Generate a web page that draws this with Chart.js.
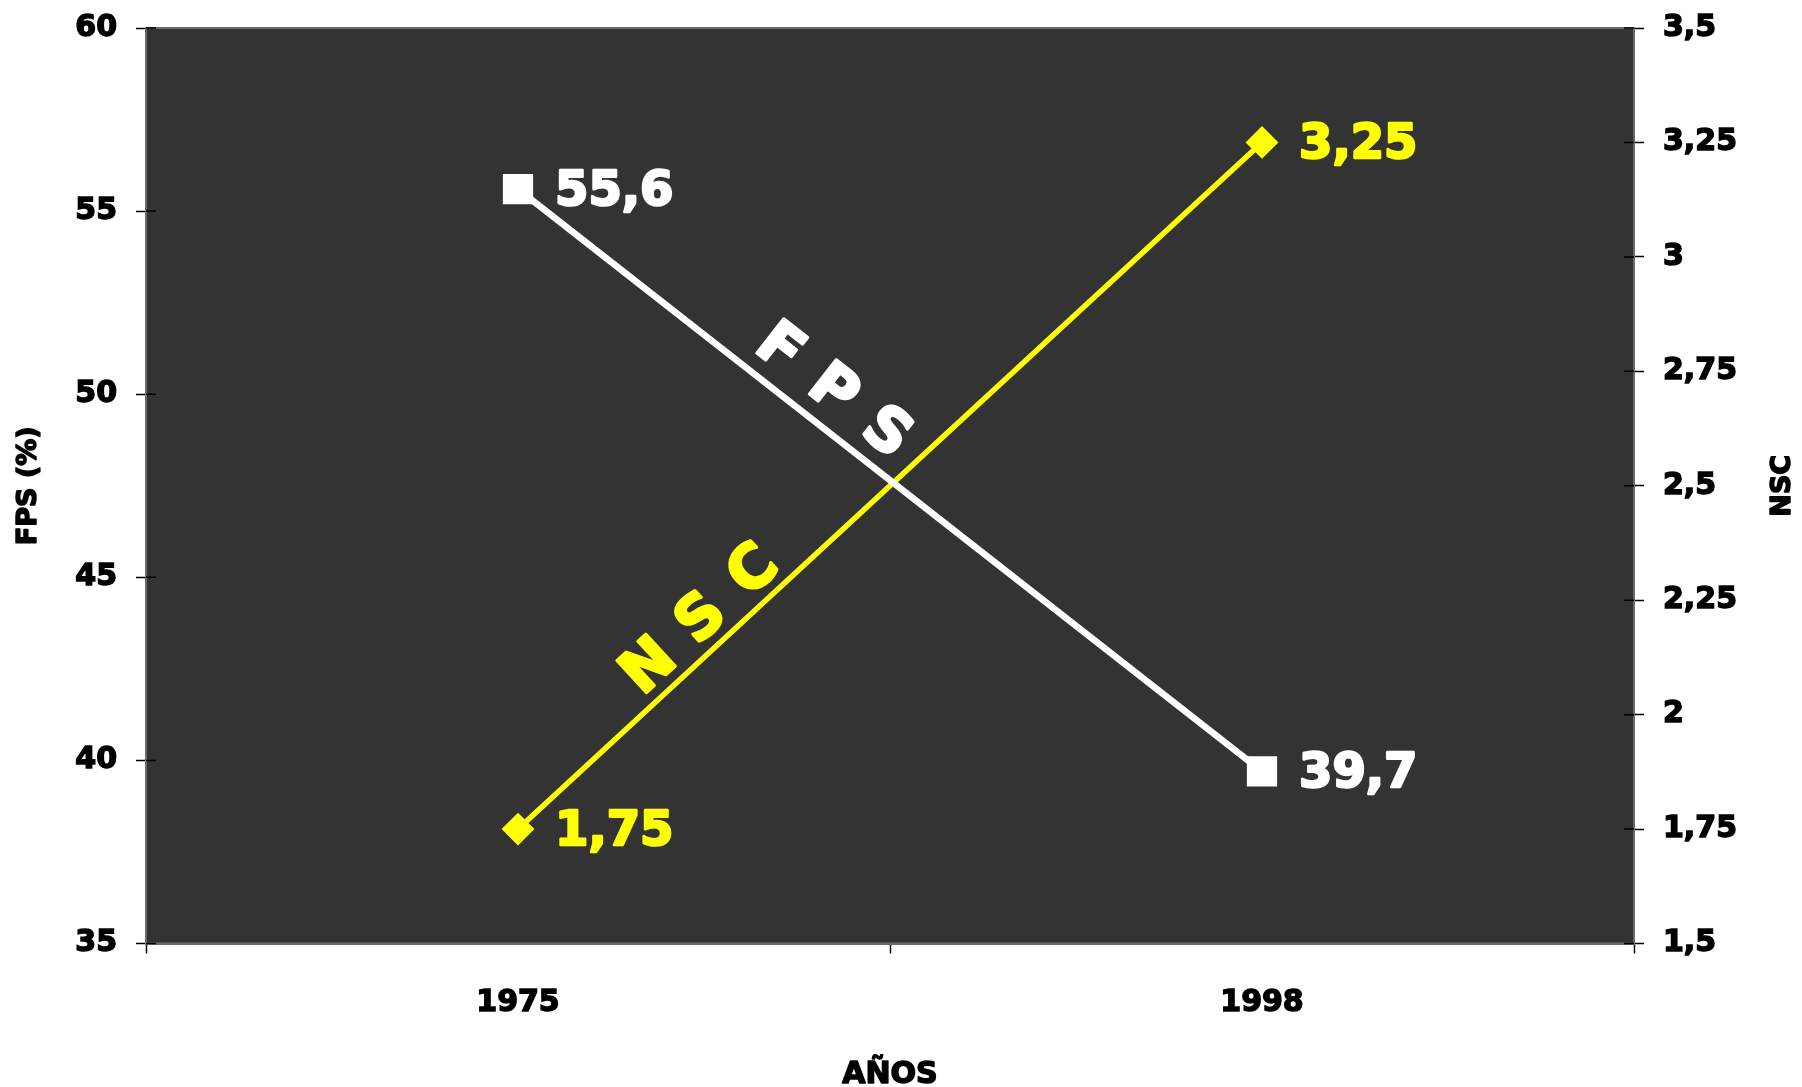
<!DOCTYPE html>
<html>
<head>
<meta charset="utf-8">
<title>FPS y NSC</title>
<script src="https://cdn.jsdelivr.net/npm/chart.js@4.4.1/dist/chart.umd.min.js"></script>
<style>
  html, body { margin: 0; padding: 0; background: #fff; }
  #wrap { width: 1802px; height: 1087px; }
</style>
</head>
<body>
<div id="wrap"><canvas id="chart"></canvas></div>
<script>
// values
const years = ['1975', '1998'];
const fpsValues = [55.6, 39.7];
const nscValues = [1.75, 3.25];
const fpsTicks = [35, 40, 45, 50, 55, 60];
const nscTicks = [1.5, 1.75, 2, 2.25, 2.5, 2.75, 3, 3.25, 3.5];

const FONT = '"DejaVu Sans", "Liberation Sans", sans-serif';
const comma = v => String(+v.toFixed(2)).replace('.', ',');

// plot area edges in the reference
const PLOT = { left: 146, right: 1634, top: 28, bottom: 943.5 };

// heavy text: fill plus a thin stroke of the same colour
function heavy(ctx, text, x, y, w) {
  ctx.lineWidth = w;
  ctx.lineJoin = 'round';
  ctx.strokeStyle = ctx.fillStyle;
  ctx.strokeText(text, x, y);
  ctx.fillText(text, x, y);
}

// keep the plot box where the reference has it
function noPad(s) {
  s.paddingTop = 0; s.paddingBottom = 0;
  s.paddingLeft = 0; s.paddingRight = 0;
}

const decor = {
  id: 'decor',
  beforeDraw(chart) {
    const { ctx, chartArea: a } = chart;
    ctx.save();
    ctx.fillStyle = '#333333';
    ctx.fillRect(a.left, a.top, a.right - a.left, a.bottom - a.top);
    ctx.restore();
  },
  afterDatasetsDraw(chart) {
    const { ctx } = chart;
    ctx.save();

    // value labels right of each point
    ctx.font = 'bold 48px ' + FONT;
    ctx.textAlign = 'left';
    ctx.textBaseline = 'alphabetic';
    chart.data.datasets.forEach((ds, i) => {
      const meta = chart.getDatasetMeta(i);
      ctx.fillStyle = ds.borderColor;
      meta.data.forEach((pt, j) => {
        heavy(ctx, comma(ds.data[j]), pt.x + 37, pt.y + 16, 2.5);
      });
    });

    // series names written along each line
    const along = (i, t, off, gap, text, color) => {
      const pts = chart.getDatasetMeta(i).data;
      const dx = pts[1].x - pts[0].x, dy = pts[1].y - pts[0].y;
      const len = Math.hypot(dx, dy);
      const ux = dx / len, uy = dy / len;
      let nx = uy, ny = -ux;
      if (ny > 0) { nx = -nx; ny = -ny; }
      const cx = pts[0].x + ux * len * t + nx * off;
      const cy = pts[0].y + uy * len * t + ny * off;
      const ang = Math.atan2(dy, dx);
      ctx.font = 'bold 60px ' + FONT;
      ctx.fillStyle = color;
      ctx.textAlign = 'center';
      ctx.textBaseline = 'alphabetic';
      text.split('').forEach((ch, k) => {
        const s = (k - (text.length - 1) / 2) * gap;
        ctx.save();
        ctx.translate(cx + ux * s, cy + uy * s);
        ctx.rotate(ang);
        heavy(ctx, ch, 0, 22, 3);
        ctx.restore();
      });
    };
    along(0, 0.394, 40, 68, 'FPS', '#ffffff');
    along(1, 0.274, 35, 71, 'NSC', '#ffff00');

    ctx.restore();
  },
  afterDraw(chart) {
    const { ctx, chartArea: a, scales } = chart;
    ctx.save();

    // frame of the plot area
    ctx.strokeStyle = '#6a6a6a';
    ctx.lineWidth = 2;
    ctx.strokeRect(a.left, a.top, a.right - a.left, a.bottom - a.top);

    // short inner halves of the y ticks
    ctx.strokeStyle = '#000';
    ctx.lineWidth = 1.5;
    ctx.beginPath();
    fpsTicks.forEach(v => {
      const y = scales.y.getPixelForValue(v);
      ctx.moveTo(a.left, y); ctx.lineTo(a.left + 10, y);
    });
    nscTicks.forEach(v => {
      const y = scales.y2.getPixelForValue(v);
      ctx.moveTo(a.right - 10, y); ctx.lineTo(a.right, y);
    });
    ctx.stroke();

    // axis titles
    ctx.fillStyle = '#000';
    ctx.textAlign = 'center';
    ctx.textBaseline = 'middle';
    const cy = (a.top + a.bottom) / 2;
    ctx.font = 'bold 27px ' + FONT;
    ctx.save(); ctx.translate(29, cy); ctx.rotate(-Math.PI / 2);
    heavy(ctx, 'FPS (%)', 0, 0, 1.5); ctx.restore();
    ctx.save(); ctx.translate(1783, cy); ctx.rotate(-Math.PI / 2);
    heavy(ctx, 'NSC', 0, 0, 1.5); ctx.restore();
    ctx.font = 'bold 30px ' + FONT;
    heavy(ctx, 'AÑOS', (a.left + a.right) / 2, 1075, 1.5);

    ctx.restore();
  }
};

const tickFont = { family: FONT, size: 30, weight: 'bold' };
const tickOpts = {
  font: tickFont,
  color: '#000',
  textStrokeColor: '#000',
  textStrokeWidth: 1.5,
  callback: v => comma(v)
};
const gridOpts = {
  drawOnChartArea: false,
  tickLength: 10,
  tickColor: '#000',
  tickWidth: 1.5
};

new Chart(document.getElementById('chart'), {
  type: 'line',
  data: {
    labels: years,
    datasets: [
      {
        label: 'FPS',
        data: fpsValues,
        yAxisID: 'y',
        borderColor: '#ffffff',
        backgroundColor: '#ffffff',
        borderWidth: 6.5,
        pointStyle: 'rect',
        pointRadius: 20,
        pointBorderWidth: 2,
        tension: 0
      },
      {
        label: 'NSC',
        data: nscValues,
        yAxisID: 'y2',
        borderColor: '#ffff00',
        backgroundColor: '#ffff00',
        borderWidth: 5.5,
        pointStyle: 'rectRot',
        pointRadius: 15,
        pointBorderWidth: 2,
        tension: 0
      }
    ]
  },
  options: {
    responsive: true,
    maintainAspectRatio: false,
    animation: false,
    layout: { padding: { top: PLOT.top, left: 0, right: 0, bottom: 0 } },
    plugins: { legend: { display: false }, tooltip: { enabled: false } },
    scales: {
      x: {
        type: 'category',
        offset: true,
        grid: { ...gridOpts, offset: true },
        border: { color: '#6a6a6a', width: 2 },
        ticks: { ...tickOpts, padding: 32, maxRotation: 0, callback: (v, i) => years[i] },
        afterFit: s => { s.height = 1087 - PLOT.bottom; noPad(s); }
      },
      y: {
        position: 'left',
        min: 35,
        max: 60,
        afterBuildTicks: s => { s.ticks = fpsTicks.map(v => ({ value: v })); },
        grid: gridOpts,
        border: { color: '#6a6a6a', width: 2 },
        ticks: { ...tickOpts, padding: 19 },
        afterFit: s => { s.width = PLOT.left; noPad(s); }
      },
      y2: {
        position: 'right',
        min: 1.5,
        max: 3.5,
        afterBuildTicks: s => { s.ticks = nscTicks.map(v => ({ value: v })); },
        grid: gridOpts,
        border: { color: '#6a6a6a', width: 2 },
        ticks: { ...tickOpts, padding: 19 },
        afterFit: s => { s.width = 1802 - PLOT.right; noPad(s); }
      }
    }
  },
  plugins: [decor]
});
</script>
</body>
</html>
